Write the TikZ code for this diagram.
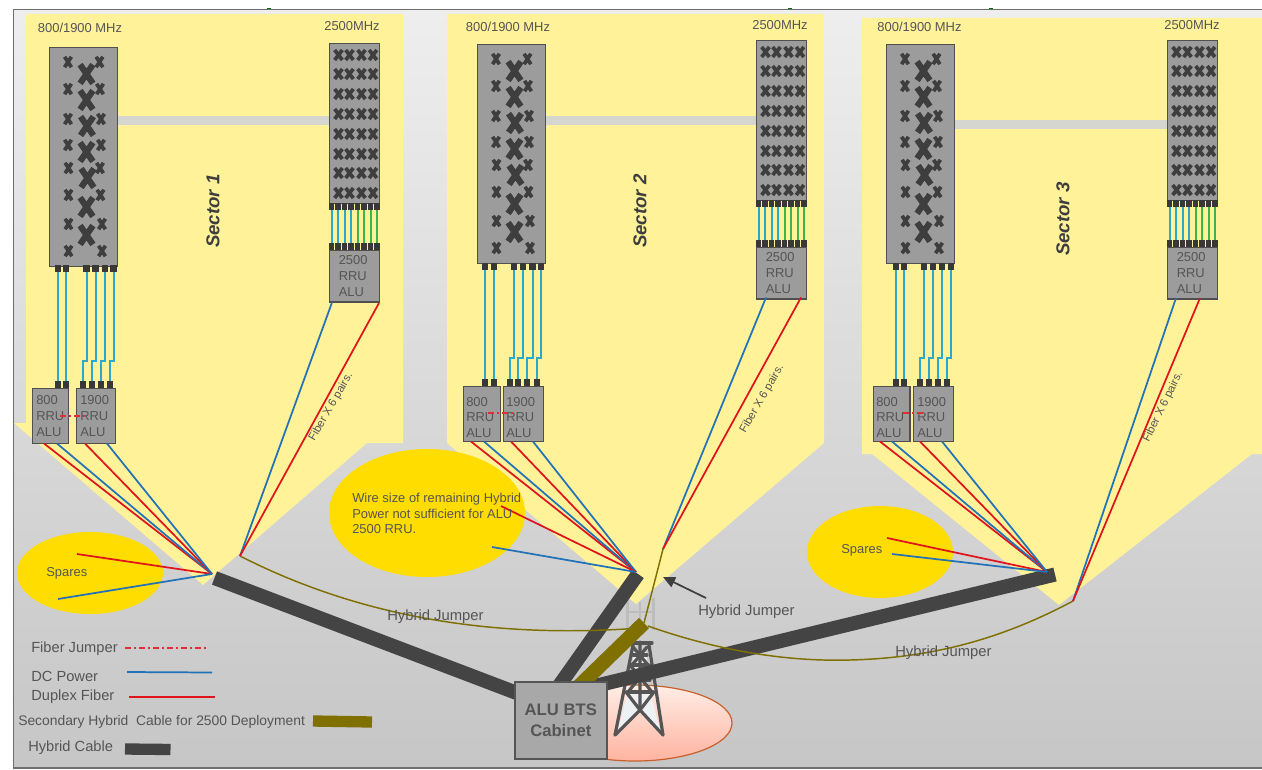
\documentclass[tikz,border=0pt]{standalone}
\usepackage{fontspec}
\setmainfont{Liberation Sans}
\usetikzlibrary{arrows.meta}
\definecolor{sy}{HTML}{FFF299}
\definecolor{gold}{HTML}{FFDD00}
\definecolor{txt}{HTML}{555555}
\definecolor{pan}{HTML}{9C9C9C}
\definecolor{pedge}{HTML}{505050}
\definecolor{xc}{HTML}{3E3E3E}
\definecolor{stubc}{HTML}{383838}
\definecolor{wcy}{HTML}{2BA8CC}
\definecolor{wgr}{HTML}{3DB54A}
\definecolor{fred}{HTML}{E0141C}
\definecolor{dcb}{HTML}{2272B8}
\definecolor{oli}{HTML}{7F7000}
\definecolor{hyb}{HTML}{444444}
\definecolor{barc}{HTML}{D6D6D0}
\definecolor{pinkt}{HTML}{FFEDE6}
\definecolor{pinkb}{HTML}{FFB3A0}
\definecolor{pinke}{HTML}{C8602C}
\definecolor{towf}{HTML}{EEF1F3}
\definecolor{bgt}{HTML}{EEEEEE}
\definecolor{bgm}{HTML}{D2D2D2}
\definecolor{bgb}{HTML}{C6C6C6}
\pgfdeclarelayer{top}
\pgfsetlayers{main,top}
\tikzset{
  lbl/.style={text=txt,inner sep=0pt,font=\fontsize{9.7}{11.8}\selectfont},
  leg/.style={text=txt,inner sep=0pt,anchor=west,font=\fontsize{11}{13}\selectfont},
  jlbl/.style={text=txt,inner sep=0pt,anchor=west,font=\fontsize{11.1}{13}\selectfont},
  seclbl/.style={text=xc,inner sep=0pt,rotate=90,font=\fontsize{14}{16}\bfseries\itshape\selectfont},
  fibl/.style={text=txt,inner sep=0pt,font=\fontsize{8.5}{10}\selectfont},
  rrutxt/.style={lbl,anchor=west,align=left},
  bigbox/.style={draw=pedge,fill=pan,line width=1.1pt,anchor=north west,inner sep=0pt,minimum width=51pt,minimum height=164pt},
  smallbox/.style={draw=pedge,fill=pan,line width=1.1pt,anchor=north west,inner sep=0pt,minimum width=37.5pt,minimum height=120pt},
  rrubox/.style={draw=pedge,fill=pan,line width=1.1pt,anchor=north west,inner sep=0pt},
  stubbox/.style={fill=stubc,inner sep=0pt,minimum width=4.8pt,minimum height=5.4pt},
  wirecy/.style={draw=wcy,line width=1.5pt},
  wiregr/.style={draw=wgr,line width=1.5pt},
  fiberln/.style={draw=fred,line width=1.3pt},
  dcln/.style={draw=dcb,line width=1.3pt},
  jumpln/.style={draw=fred!90!white,line width=1pt,dash pattern=on 4.5pt off 2.5pt on 1pt off 2.5pt},
  hybridjump/.style={draw=oli,line width=1.1pt},
  hybridcable/.style={draw=hyb,line width=10.6pt},
  secondcable/.style={draw=oli,line width=10.8pt},
  bigx/.style={draw=xc,line width=4.6pt},
  smallx/.style={draw=xc,line width=2.8pt},
  gridx/.style={draw=xc,line width=2.8pt},
  tower/.style={draw=txt,line width=2.4pt,line cap=round,line join=round},
}
% one cross: centre x, centre y, half width, half height, style
\newcommand\crossmark[5]{\draw[#5] (#1-#3,#2-#4) -- (#1+#3,#2+#4) (#1-#3,#2+#4) -- (#1+#3,#2-#4);}
% stub pair and wire between them
\newcommand\stubwire[8]{%
  \node[stubbox] (#1) at (#2,#3) {};
  \node[stubbox] (#4) at (#5,#6) {};
  \coordinate (#1j) at (0,#7);
  \draw[#8] (#1.south) -- (#1.south |- #1j) -- (#4.north |- #1j) -- (#4.north);
}
% big antenna panel
\newcommand\bigpanel[3]{%
  \node[bigbox] (#1) at (#2,#3) {};
  \begin{scope}[shift={(#2,#3)}]
    \foreach \dx/\dy in {37.5/27,37.5/53,38/79,37.5/105,38.5/131,37.5/160,37.5/188}{\crossmark{\dx}{\dy}{6.4}{9.4}{bigx}}
    \foreach \dx/\dy in {19/15,19/42,19/72,19/98,19.5/121,19.5/148,19.5/177,19.5/204,
                         50.5/15,51/42,52/72,52/98,51/121,51.5/148,53/177,53/204}{\crossmark{\dx}{\dy}{3.4}{5.2}{smallx}}
  \end{scope}
}
% small antenna panel with its RRU
\newcommand\smallpanel[3]{%
  \node[smallbox] (#1) at (#2,#3) {};
  \begin{scope}[shift={(#2,#3)},stubbox/.append style={minimum width=3.8pt}]
    \foreach \dy in {12,31,51,71,91,111,130,150}{
      \foreach \dx in {9.5,20.5,32.5,44}{\crossmark{\dx}{\dy}{3.8}{5}{gridx}}}
    \node[rrubox,minimum width=37.5pt,minimum height=38.6pt] (#1r) at (0,207) {};
    \node[rrutxt] (#1t) at (9.5,233) {2500\\RRU\\ALU};
    \foreach \k/\dx/\c in {1/2.5/wirecy,2/9/wirecy,3/15.5/wirecy,4/22/wirecy,5/28.5/wiregr,6/35/wiregr,7/41.5/wiregr,8/48/wiregr}{
      \stubwire{#1a\k}{\dx}{163.5}{#1b\k}{\dx}{203.5}{180}{\c}
    }
  \end{scope}
}
\begin{document}
\begin{tikzpicture}[x=0.75pt,y=-0.75pt]
\useasboundingbox (0,0) rectangle (1262,770);
% background
\shade[top color=bgt,middle color=bgm,bottom color=bgb] (13.5,9.5) rectangle (1262,768);
\draw[draw=txt!85!white,line width=1.2pt] (1262,9.5) -- (13.5,9.5) -- (13.5,768) -- (1262,768);
\foreach \gx in {269,790,991}{\fill[green!45!black] (\gx-2,7.6) rectangle (\gx+2,9);}
% sector areas
\fill[sy] (26,14) -- (403,14) -- (403,443) -- (367,443) -- (203,585) -- (14,423) -- (26,423) -- cycle;
\fill[sy] (447,14) -- (824,14) -- (824,443) -- (636,604) -- (447,443) -- cycle;
\fill[sy] (862,18) -- (1262,18) -- (1262,454) -- (1252,454) -- (1059,605) -- (872,454) -- (862,454) -- cycle;
% bars
\fill[barc] (117,116) rectangle (329,125);
\fill[barc] (545,116) rectangle (756,125);
\fill[barc] (955,120) rectangle (1167,129);
% spare ellipses
\fill[gold] (90,573) ellipse [x radius=73,y radius=41];
\fill[gold] (427,513) ellipse [x radius=98,y radius=64];
\fill[gold] (880,552) ellipse [x radius=73,y radius=46];
% cabinet on the top layer, declared first so cables can be cut by it
\begin{pgfonlayer}{top}
\node[draw=txt,fill=white!66!black,line width=1.2pt,anchor=north west,inner sep=0pt,minimum width=69pt,minimum height=57.7pt,align=center,text=txt,font=\fontsize{12.5}{16}\bfseries\selectfont] (cabinet) at (514,681) {ALU BTS\\Cabinet};
\end{pgfonlayer}
% pink ellipse
\shade[top color=pinkt,bottom color=pinkb] (635,723) ellipse [x radius=97,y radius=38];
\draw[draw=pinke,line width=0.9pt] (635,723) ellipse [x radius=97,y radius=38];
% tower
\fill[towf] (617,733) -- (628,692) -- (650,692) -- (661,733) -- (640,710) -- cycle;
\fill[towf] (630,682) -- (650,682) -- (646,652) -- (634,652) -- cycle;
\draw[tower] (615,735) -- (633,645) (663,735) -- (649,645);
\draw[tower] (615,735) -- (640,710) -- (663,735) (640,642) -- (640,710);
\draw[tower] (627,692) -- (653,692) (630,680) -- (650,680) (632,665) -- (648,665) (633,655) -- (647,655);
\draw[tower] (626,692) -- (640,710) -- (654,692) (628,692) -- (650,665) (652,692) -- (630,665) (632,665) -- (647,647) (648,665) -- (633,647);
\draw[tower] (628,643) -- (652,643);
% top antenna outline
\draw[draw=white!74!black,line width=1.6pt] (627.5,600) -- (627.5,628) (653.5,598) -- (653.5,630) (627.5,612) -- (653.5,612) (640,602) -- (640,628);
% panels
\bigpanel{A}{49}{47}
\smallpanel{B}{329}{43}
\bigpanel{C}{477}{44}
\smallpanel{D}{756}{40}
\bigpanel{E}{886}{44}
\smallpanel{F}{1167}{40}
% RRUs
\node[rrubox,minimum width=27pt,minimum height=41.2pt] (r1a) at (32,388) {};
\node[rrubox,minimum width=29.2pt,minimum height=41.2pt] (r1b) at (76,388) {};
\node[rrubox,minimum width=27.7pt,minimum height=41.2pt] (r2a) at (463,386) {};
\node[rrubox,minimum width=30pt,minimum height=41.2pt] (r2b) at (503,386) {};
\node[rrubox,minimum width=27.2pt,minimum height=41.2pt] (r3a) at (873,386) {};
\node[rrubox,minimum width=30pt,minimum height=41.2pt] (r3b) at (913,386) {};
\node[rrutxt] (t1a) at (36,416) {800\\RRU\\ALU};
\node[rrutxt] (t1b) at (80,416) {1900\\RRU\\ALU};
\node[rrutxt] (t2a) at (466,417.5) {800\\RRU\\ALU};
\node[rrutxt] (t2b) at (506,417.5) {1900\\RRU\\ALU};
\node[rrutxt] (t3a) at (876,417.5) {800\\RRU\\ALU};
\node[rrutxt] (t3b) at (917,417.5) {1900\\RRU\\ALU};
% stub wires
\foreach \k/\tx/\bx in {1/58/58,2/66/66,3/86.5/83,4/95.5/92,5/105/101,6/113.5/110}{\stubwire{p\k}{\tx}{268.5}{q\k}{\bx}{384.5}{361}{wirecy}}
\foreach \k/\tx/\bx in {1/485/485,2/494/494,3/514/510,4/523/518,5/532.5/527,6/541/537}{\stubwire{u\k}{\tx}{266.5}{v\k}{\bx}{382.5}{358}{wirecy}}
\foreach \k/\tx/\bx in {1/896/896,2/904/904,3/924/920,4/933/929,5/942/938,6/951/947}{\stubwire{m\k}{\tx}{266.5}{n\k}{\bx}{382.5}{358}{wirecy}}
% hubs and free ends
\coordinate (h1) at (212,574);
\coordinate (h2) at (636,572);
\coordinate (h3) at (1047,572);
\coordinate (k1) at (240,556);
\coordinate (k2) at (663,549);
\coordinate (k3) at (1073,601);
\coordinate (s1r) at (77,554);
\coordinate (s1b) at (58,599);
\coordinate (s2r) at (501,506);
\coordinate (s2b) at (492,547);
\coordinate (s3r) at (887,538);
\coordinate (s3b) at (892,554);
\coordinate (c1) at (214.5,578);
\coordinate (c2) at (638,574);
\coordinate (c3) at (1055,574.5);
\coordinate (c4) at (644,623);
\coordinate (cabW) at (530,698);
\coordinate (cabN) at (556,690);
\coordinate (cabO) at (575,690);
\coordinate (cabE) at (595,686);
\coordinate (towerL) at (640,628);
\coordinate (towerR) at (648,626);
% cables
\draw[hybridcable] (c1) -- (cabW);
\draw[hybridcable] (c2) -- (cabN);
\draw[hybridcable] (c3) -- (cabE);
\draw[secondcable] (c4) -- (cabO);
% hybrid jumpers
\draw[hybridjump] (k1) .. controls (350,612) and (480,640) .. (towerL);
\draw[hybridjump] (k2) -- (c4);
\draw[hybridjump] (towerR) .. controls (710,648) and (780,662) .. (850,660) .. controls (930,658) and (1000,640) .. (k3);
% sector 1 fans
\draw[fiberln] (44,443.5) -- (h1);
\draw[dcln] (57,443.5) -- (h1);
\draw[fiberln] (85,443.5) -- (h1);
\draw[dcln] (107,443.5) -- (h1);
\draw[fiberln] (s1r) -- (h1);
\draw[dcln] (s1b) -- (h1);
\draw[dcln] (332,302.5) -- (k1);
\draw[fiberln] (379,303) -- (k1);
% sector 2 fans
\draw[fiberln] (471,441.5) -- (h2);
\draw[dcln] (484,441.5) -- (h2);
\draw[fiberln] (511,441.5) -- (h2);
\draw[dcln] (533,441.5) -- (h2);
\draw[fiberln] (s2r) -- (h2);
\draw[dcln] (s2b) -- (h2);
\draw[dcln] (766,297.5) -- (k2);
\draw[fiberln] (801,297.5) -- (k2);
% sector 3 fans
\draw[fiberln] (880,441.5) -- (h3);
\draw[dcln] (892,441.5) -- (h3);
\draw[fiberln] (920,441.5) -- (h3);
\draw[dcln] (942,441.5) -- (h3);
\draw[fiberln] (s3r) -- (h3);
\draw[dcln] (s3b) -- (h3);
\draw[dcln] (1176,298) -- (k3);
\draw[fiberln] (1200,298) -- (k3);
% fibre jumpers between RRUs
\draw[jumpln] (60,416) -- (88,416);
\draw[jumpln] (488,413) -- (515,413);
\draw[jumpln] (903,413) -- (925,413);
% arrow
\coordinate (arT) at (706,598);
\coordinate (arH) at (663,577);
\draw[draw=xc,line width=1.3pt,-{Triangle[length=9pt,width=8pt]}] (arT) -- (arH);
% labels
\node[lbl] (l1) at (80,28) {800/1900 MHz};
\node[lbl] (l2) at (508,27) {800/1900 MHz};
\node[lbl] (l3) at (919.5,27) {800/1900 MHz};
\node[lbl] (l4) at (352,26) {2500MHz};
\node[lbl] (l5) at (780,25) {2500MHz};
\node[lbl] (l6) at (1192,25) {2500MHz};
\node[seclbl] (sec1) at (213,211) {Sector 1};
\node[seclbl] (sec2) at (640,211) {Sector 2};
\node[seclbl] (sec3) at (1063,219) {Sector 3};
\node[fibl,rotate=60] (f1) at (331,407) {Fiber X 6 pairs.};
\node[fibl,rotate=60] (f2) at (762,399) {Fiber X 6 pairs.};
\node[fibl,rotate=64] (f3) at (1163,407) {Fiber X 6 pairs.};
\node[lbl,anchor=west] (sp1) at (46,573) {Spares};
\node[lbl,anchor=west] (sp3) at (841,550) {Spares};
\node[lbl,anchor=west,align=left] (wire) at (352,513.5) {Wire size of remaining Hybrid\\Power not sufficient for ALU\\2500 RRU.};
\node[jlbl] (j1) at (387,617) {Hybrid Jumper};
\node[jlbl] (j2) at (698,612) {Hybrid Jumper};
\node[jlbl] (j3) at (895,653) {Hybrid Jumper};
% legend
\node[leg] (g1) at (31,649) {Fiber Jumper};
\node[leg] (g2) at (31,676) {DC Power};
\node[leg] (g3) at (31,697) {Duplex Fiber};
\node[leg,font=\fontsize{10.4}{13}\selectfont] (g4) at (18,722) {Secondary Hybrid\ \ Cable for 2500 Deployment};
\node[leg] (g5) at (28,748) {Hybrid Cable};
\coordinate (g1a) at (125,648);\coordinate (g1b) at (208,648);
\coordinate (g2a) at (127,672);\coordinate (g2b) at (212,672.5);
\coordinate (g3a) at (129,696.5);\coordinate (g3b) at (215,696.5);
\draw[jumpln] (g1a) -- (g1b);
\draw[dcln] (g2a) -- (g2b);
\draw[fiberln,line width=1.5pt] (g3a) -- (g3b);
\coordinate (g4a) at (313,721);\coordinate (g4b) at (372,722);
\coordinate (g5a) at (125,749);\coordinate (g5b) at (170.5,749.5);
\draw[draw=oli,line width=8.5pt] (g4a) -- (g4b);
\draw[draw=hyb,line width=8.5pt] (g5a) -- (g5b);
\end{tikzpicture}
\end{document}
